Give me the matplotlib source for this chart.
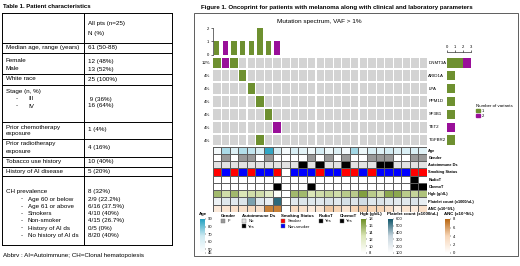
import numpy as np
import matplotlib
matplotlib.use("Agg")
import matplotlib.pyplot as plt
from matplotlib.colors import ListedColormap, LinearSegmentedColormap, Normalize
from matplotlib.cm import ScalarMappable
from matplotlib.patches import Patch, Rectangle

plt.rcParams['font.family'] = ['Liberation Sans', 'DejaVu Sans']

W, H = 520, 266

# ---- table data ----
table_title = "Table 1. Patient characteristics"
table_left = [
    (6, 48, "Median age, range (years)"), (6, 61, "Female"), (6, 69, "Male"),
    (6, 79, "White race"), (6, 91, "Stage (n, %)"), (6, 127, "Prior chemotherapy"),
    (6, 134, "exposure"), (6, 144, "Prior radiotherapy"), (6, 152, "exposure"),
    (6, 162, "Tobacco use history"), (6, 172, "History of AI disease"),
    (6, 191, "CH prevalence"),
]
stage_sub = ["III", "IV"]
stage_vals = [" 9 (36%)", "16 (64%)"]
ch_sub = ["Age 60 or below", "Age 61 or above", "Smokers", "Non-smoker",
          "History of AI ds", "No history of AI ds"]
ch_vals = ["2/9 (22.2%)", "6/16 (37.5%)", "4/10 (40%)", "4/15 (26.7%)",
           "0/5 (0%)", "8/20 (40%)"]
table_right = [
    (24, "All pts (n=25)"), (33, "N (%)"), (48, "61 (50-88)"), (61, "12 (48%)"),
    (69, "13 (52%)"), (79, "25 (100%)"), (130, "1 (4%)"), (148, "4 (16%)"),
    (162, "10 (40%)"), (172, "5 (20%)"), (191, "8 (32%)"),
]
row_lines = [13, 43, 53, 73.5, 85, 122, 139, 157, 167, 176, 245]
abbrev = "Abbrv : AI=Autoimmune; CH=Clonal hematopoiesis"

# ---- oncoprint data ----
genes = ["DNMT3A", "ARID1A", "LPA", "PPM1D", "SF3B1", "TET2", "TGFBR2"]
gene_pct = ["12%", "4%", "4%", "4%", "4%", "4%", "4%"]
n_pat = 25
# 0 = none, 1 = one variant, 2 = two variants
mut = np.zeros((7, n_pat), dtype=int)
mut[0, 0] = 1
mut[0, 1] = 2
mut[0, 2] = 1
mut[1, 3] = 1
mut[2, 4] = 1
mut[3, 5] = 1
mut[4, 6] = 1
mut[5, 7] = 2
mut[6, 5] = 1

nan = np.nan
age = [50, 72, 60, 71, 69, 62, 88, 63, 50, 62, 57, 52, 64, 53, 60, 51, 73, 53, 62, 60, 65, 60, 61, 62, 59]
gender = [0, 1, 0, 1, 1, 0, 1, 0, 0, 0, 0, 1, 0, 1, 0, 1, 0, 0, 1, 1, 1, 0, 0, 1, 1]
autoimm = [0, 0, 0, 0, 0, 0, 0, 0, 0, 0, 1, 0, 1, 0, 0, 1, 0, 0, 0, 1, 1, 0, 0, 0, 0]
smoking = [1, 0, 1, 0, 1, 0, 0, 1, nan, 0, 0, 0, 1, 0, 0, 1, 1, 0, 1, 0, 0, 0, 0, 1, 1]
radiot = [0] * 23 + [1, 0]
chemot = [0, 0, 0, 0, 0, 0, 0, 1, 0, 0, 0, 1, 0, 0, 0, 0, 0, 0, 0, 0, 0, 0, 0, 1, 1]
hgb = [15.5, 13.5, 15.5, 13, 13.5, 13.5, 12, 8.5, nan, 15.5, 15.5, 13, 13.5, 14, 13.5, 14.5,
       14.5, 17, 14.5, 13.5, 16.5, 16.5, 14.5, 14, 15]
platelet = [180, 240, 230, 250, 450, 240, 200, 560, nan, 230, 250, 240, 230, 260, 230, 280,
            250, 300, 240, 260, 230, 220, 230, 260, 200]
anc = [2, 2.5, 3, 3, 3.5, 3, 7, 7, nan, 3.5, 3, 2, 2.5, 4.5, 4, 2.5, 4, 4.5, 4, 4, 3, 1.5,
       2.5, 2, 3]
clin_labels = ["Age", "Gender", "Autoimmune Ds", "Smoking Status", "RadioT", "ChemoT",
               "Hgb (g/dL)", "Platelet count (x1000/uL)", "ANC (x10^9/L)"]

green = '#6e9030'
purple = '#990f99'
cell_gray = '#d3d3d3'


def rect(x0, y0, x1, y1):
    return [x0 / W, 1 - y1 / H, (x1 - x0) / W, (y1 - y0) / H]


def grad(c):
    return LinearSegmentedColormap.from_list('g', c)


age_cmap = grad(['#ffffff', '#cdeaf2', '#22a0c0'])
hgb_cmap = grad(['#ffffff', '#dbe6b8', '#6b8e23'])
plt_cmap = grad(['#ffffff', '#c6d5de', '#0f5569'])
anc_cmap = grad(['#ffffff', '#f7d6b8', '#b8650f'])

fig = plt.figure(figsize=(W / 100, H / 100), dpi=100)

# overlay for table and titles
ov = fig.add_axes([0, 0, 1, 1])
ov.set_xlim(0, W)
ov.set_ylim(H, 0)
ov.axis('off')

fs = 4.5
ov.text(3, 7, table_title, fontsize=4.3, fontweight='bold', va='center')
for y in row_lines:
    ov.plot([2, 172], [y, y], color='black', lw=0.7)
for x in [2, 84, 172]:
    ov.plot([x, x], [13, 245], color='black', lw=0.7)
for x, y, s in table_left:
    ov.text(x, y, s, fontsize=fs, va='center')
for i, s in enumerate(stage_sub):
    ov.text(16, 99 + 7 * i, "-", fontsize=fs, va='center')
    ov.text(28, 99 + 7 * i, s, fontsize=fs, va='center')
    ov.text(88, 99 + 7 * i, stage_vals[i], fontsize=fs, va='center')
for i, s in enumerate(ch_sub):
    y = 199 + 7.3 * i
    ov.text(21, y, "-", fontsize=fs, va='center')
    ov.text(28, y, s, fontsize=fs, va='center')
    ov.text(88, y, ch_vals[i], fontsize=fs, va='center')
for y, s in table_right:
    ov.text(88, y, s, fontsize=fs, va='center')
ov.text(3, 256, abbrev, fontsize=fs, va='center')

ov.text(201, 7, "Figure 1. Oncoprint for patients with melanoma along with clinical and laboratory parameters",
        fontsize=4.4, fontweight='bold', va='center')
ov.add_patch(Rectangle((194, 13), 324, 243, fill=False, lw=0.6, ec='#444444'))
ov.text(319, 22, "Mutation spectrum, VAF > 1%", fontsize=4.6, ha='center', va='center')

# mutation grid
ax_g = fig.add_axes(rect(212.5, 56.5, 428, 146.5))
ax_g.set_xlim(0, n_pat)
ax_g.set_ylim(7, 0)
cmap_mut = {0: cell_gray, 1: green, 2: purple}
xs = np.arange(n_pat) + 0.5
for i in range(len(genes)):
    ax_g.bar(xs, 0.84, bottom=i + 0.08, width=0.87, color=[cmap_mut[v] for v in mut[i]])
    ax_g.text(n_pat + 0.05, i + 0.5, genes[i], fontsize=3.2, va='center', ha='left')
ax_g.set_yticks(np.arange(7) + 0.5)
ax_g.set_yticklabels(gene_pct, fontsize=3.2)
ax_g.set_xticks([])
ax_g.tick_params(length=0, pad=1.5)
for s in ax_g.spines.values():
    s.set_visible(False)

# top bar
g_col = (mut == 1).sum(axis=0)
p_col = (mut == 2).sum(axis=0)
ax_t = fig.add_axes(rect(212.5, 28, 428, 54.5))
ax_t.bar(xs, g_col, width=0.62, color=green)
ax_t.bar(xs, p_col, bottom=g_col, width=0.62, color=purple)
ax_t.set_xlim(0, n_pat)
ax_t.set_ylim(0, 2)
ax_t.set_yticks([0, 1, 2])
ax_t.set_xticks([])
ax_t.tick_params(labelsize=3, length=1.5, width=0.4, pad=1)
for k in ['top', 'right', 'bottom']:
    ax_t.spines[k].set_visible(False)
ax_t.spines['left'].set_linewidth(0.4)

# right bar
g_row = (mut == 1).sum(axis=1)
p_row = (mut == 2).sum(axis=1)
ax_r = fig.add_axes(rect(447, 56.5, 475, 146.5))
ys = np.arange(7) + 0.5
ax_r.barh(ys, g_row, height=0.72, color=green)
ax_r.barh(ys, p_row, left=g_row, height=0.72, color=purple)
ax_r.set_xlim(0, 3.5)
ax_r.set_ylim(7, 0)
ax_r.xaxis.tick_top()
ax_r.set_xticks([0, 1, 2, 3])
ax_r.set_yticks([])
ax_r.tick_params(labelsize=3, length=1.5, width=0.4, pad=1)
for k in ['bottom', 'right', 'left']:
    ax_r.spines[k].set_visible(False)
ax_r.spines['top'].set_position(('outward', 3))
ax_r.spines['top'].set_bounds(0, 3)
ax_r.spines['top'].set_linewidth(0.4)

fig.legend(handles=[Patch(color=green, label='1'), Patch(color=purple, label='2')],
           title='Number of variants', loc='upper left', bbox_to_anchor=(474 / W, 1 - 102 / H),
           fontsize=3, title_fontsize=3.2, frameon=False, handlelength=0.9, handleheight=0.9,
           labelspacing=0.2, borderpad=0, handletextpad=0.4, alignment='left')

# clinical tracks
ax_c = fig.add_axes(rect(212.5, 146.5, 427, 212))
tracks = [
    (age, age_cmap, 45, 90),
    (gender, ListedColormap(['#ffffff', '#999999']), 0, 1),
    (autoimm, ListedColormap(['#e2e2e2', '#000000']), 0, 1),
    (smoking, ListedColormap(['#0000ff', '#ff0000']), 0, 1),
    (radiot, ListedColormap(['#ffffff', '#000000']), 0, 1),
    (chemot, ListedColormap(['#ffffff', '#000000']), 0, 1),
    (hgb, hgb_cmap, 8, 18),
    (platelet, plt_cmap, 100, 600),
    (anc, anc_cmap, 0, 8),
]
for i, (vals, cm, lo, hi) in enumerate(tracks):
    cm = cm.copy()
    cm.set_bad('white')
    ax_c.pcolormesh(np.arange(n_pat + 1), [i, i + 1], np.ma.masked_invalid([vals]),
                    cmap=cm, vmin=lo, vmax=hi, edgecolors='#5e5e5e', linewidth=0.5)
ax_c.set_xlim(0, n_pat)
ax_c.set_ylim(9, 0)
ax_c.yaxis.tick_right()
ax_c.set_yticks(np.arange(9) + 0.5)
ax_c.set_yticklabels(clin_labels, fontsize=2.8, fontweight='bold')
ax_c.set_xticks([])
ax_c.tick_params(length=0, pad=1)
for s in ax_c.spines.values():
    s.set_visible(False)

# gradient legends
grad_legs = [
    (200, "Age", age_cmap, 45, 90, [45, 50, 60, 70, 80, 90]),
    (361, "Hgb (g/dL)", hgb_cmap, 8, 18, [8, 10, 12, 14, 16, 18]),
    (388, "Platelet count (x1000/uL)", plt_cmap, 100, 600, [100, 200, 300, 400, 500, 600]),
    (445, "ANC (x10^9/L)", anc_cmap, 0, 8, [0, 2, 4, 6, 8]),
]
for x, title, cm, lo, hi, ticks in grad_legs:
    ov.text(x - 1, 214, title, fontsize=3.2, fontweight='bold', va='center')
    cax = fig.add_axes(rect(x, 219, x + 5, 253))
    cb = fig.colorbar(ScalarMappable(Normalize(lo, hi), cm), cax=cax)
    cb.set_ticks(ticks)
    cb.outline.set_visible(False)
    cax.tick_params(labelsize=3, length=1, width=0.3, pad=1)

# categorical legends
cat_legs = [
    (219, "Gender", [('#999999', 'F')]),
    (240, "Autoimmune Ds", [('#e2e2e2', 'No'), ('#000000', 'Yes')]),
    (279, "Smoking Status", [('#ff0000', 'Smoker'), ('#0000ff', 'Non-smoker')]),
    (317, "RadioT", [('#000000', 'Yes')]),
    (338, "ChemoT", [('#000000', 'Yes')]),
]
for x, title, items in cat_legs:
    fig.legend(handles=[Patch(facecolor=c, edgecolor='#777777', linewidth=0.3, label=l) for c, l in items],
               title=title, loc='upper left', bbox_to_anchor=(x / W, 1 - 211.5 / H),
               fontsize=3, title_fontsize=3.2, frameon=False, handlelength=1.0, handleheight=1.0,
               labelspacing=0.3, borderpad=0, handletextpad=0.5, alignment='left')
    fig.legends[-1].get_title().set_fontweight('bold')

fig.savefig("out.png", dpi=100)
